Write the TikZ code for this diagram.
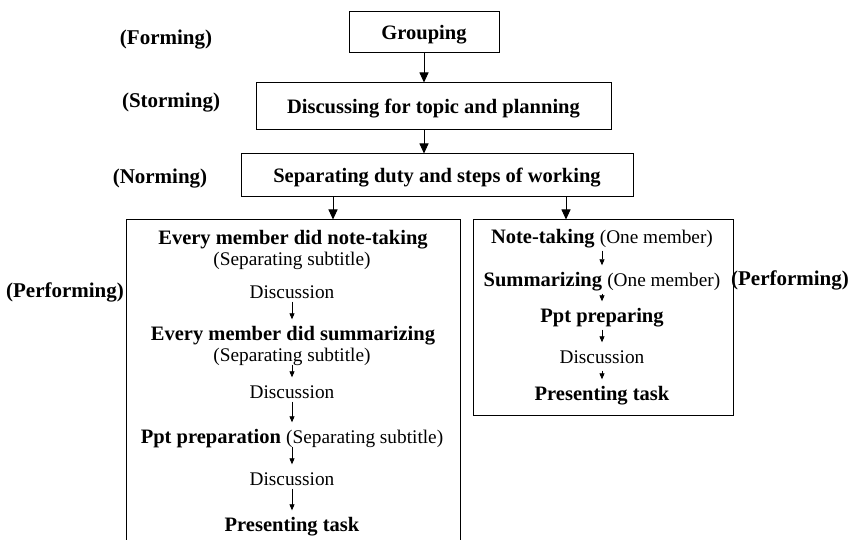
\documentclass[tikz,border=0pt]{standalone}
\usepackage{fontspec}
\setmainfont{Liberation Serif}
\usetikzlibrary{arrows.meta}
\begin{document}
\begin{tikzpicture}[x=1pt,y=-1pt,
  every node/.style={inner sep=0pt, text height=17pt, text depth=2pt},
  box/.style={draw, line width=1pt, anchor=center},
  bt/.style={font=\fontsize{20.5}{23}\selectfont\bfseries},
  lt/.style={font=\fontsize{21}{24}\selectfont\bfseries},
  rt/.style={font=\fontsize{19.3}{22}\selectfont},
  arr/.style={line width=0.9pt, -{Triangle[length=10pt,width=9pt]}},
  sarr/.style={line width=0.8pt, -{Triangle[length=6pt,width=5pt]}, shorten <=1pt, shorten >=4pt},
  rarr/.style={sarr, shorten <=5pt}]
\useasboundingbox (0,0) rectangle (849,540);
\clip (0,0) rectangle (849,540);
\fill[white] (0,0) rectangle (849,540);
% main boxes
\node[box, bt, minimum width=150pt, minimum height=41pt] (G) at (424,32.5) {Grouping};
\node[box, bt, minimum width=355pt, minimum height=47pt] (D) at (433.5,106.5) {Discussing for topic and planning};
\node[box, bt, minimum width=392pt, minimum height=43pt] (S) at (437,175.5) {Separating duty and steps of working};
\node[box, minimum width=334pt, minimum height=330pt] (L) at (293,385) {};
\node[box, minimum width=260pt, minimum height=195pt] (R) at (603,317.5) {};
% stage labels
\node[lt] (f) at (166,37) {(Forming)};
\node[lt] (st) at (171,100) {(Storming)};
\node[lt] (no) at (160,176) {(Norming)};
\node[lt] (p1) at (65,290) {(Performing)};
\node[lt] (p2) at (790,278) {(Performing)};
% main arrows
\draw[arr] (G) -- (G.south |- D.north);
\draw[arr] (D.south -| G.south) -- (G.south |- S.north);
\coordinate (s1) at (333,197);
\coordinate (s2) at (566,197);
\draw[arr] (s1) -- (s1 |- L.north);
\draw[arr] (s2) -- (s2 |- R.north);
% left box content
\node[bt] (l1) at (293,237) {Every member did note-taking};
\node[rt] (l2) at (292,258) {(Separating subtitle)};
\node[rt] (l3) at (292,291) {Discussion};
\node[bt] (l4) at (293,333) {Every member did summarizing};
\node[rt] (l5) at (292,354) {(Separating subtitle)};
\node[rt] (l6) at (292,391) {Discussion};
\node[bt] (l7) at (292,436) {Ppt preparation \normalfont\fontsize{19.3}{22}\selectfont(Separating subtitle)};
\node[rt] (l8) at (292,478) {Discussion};
\node[bt] (l9) at (292,524) {Presenting task};
\draw[sarr] (l3.south) -- (l3.south |- l4.north);
\draw[sarr] (l5.south) -- (l5.south |- l6.north);
\draw[sarr] (l6.south) -- (l6.south |- l7.north);
\draw[sarr] (l7.south) -- (l7.south |- l8.north);
\draw[sarr] (l8.south) -- (l8.south |- l9.north);
% right box content
\node[bt] (r1) at (602,236) {Note-taking \normalfont\fontsize{19.3}{22}\selectfont(One member)};
\node[bt] (r2) at (602,279) {Summarizing \normalfont\fontsize{19.3}{22}\selectfont(One member)};
\node[bt] (r3) at (602,315) {Ppt preparing};
\node[rt] (r4) at (602,356) {Discussion};
\node[bt] (r5) at (602,393) {Presenting task};
\draw[rarr] (r1.south) -- (r1.south |- r2.north);
\draw[rarr] (r2.south) -- (r2.south |- r3.north);
\draw[rarr] (r3.south) -- (r3.south |- r4.north);
\draw[rarr] (r4.south) -- (r4.south |- r5.north);
\end{tikzpicture}
\end{document}
